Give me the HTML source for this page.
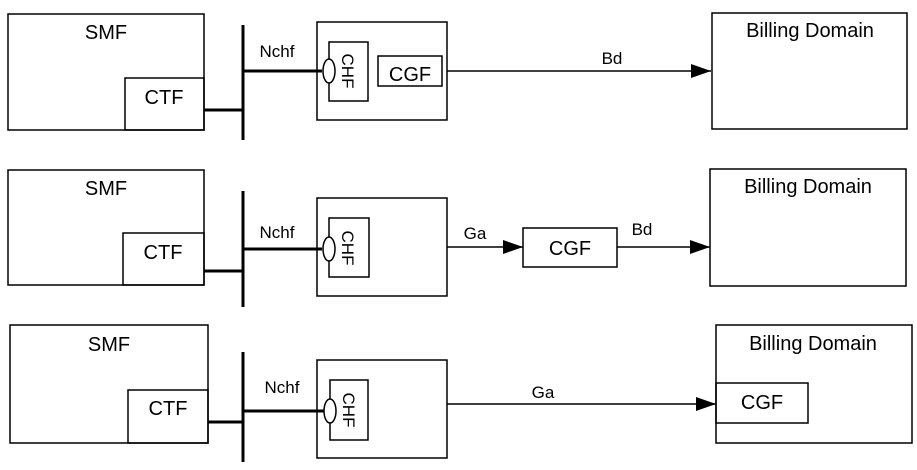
<!DOCTYPE html>
<html><head><style>html,body{margin:0;padding:0;background:#fff;}svg{display:block}</style></head>
<body>
<svg width="917" height="470" xmlns="http://www.w3.org/2000/svg" font-family="Liberation Sans, Arial, sans-serif" fill="none" stroke="#000">
<defs><marker id="a" markerWidth="20" markerHeight="14" refX="20" refY="7" orient="auto" markerUnits="userSpaceOnUse"><path d="M0,0 L20,7 L0,14 Z" fill="#000" stroke="none"/></marker></defs>
<g stroke-width="1.5">
<rect x="8" y="14" width="196" height="116"/>
<rect x="125" y="78" width="79" height="52"/>
<line x1="204" y1="110" x2="243" y2="110" stroke-width="3"/>
<line x1="243" y1="25" x2="243" y2="140" stroke-width="3"/>
<line x1="243" y1="71" x2="322" y2="71" stroke-width="3"/>
<rect x="317" y="22" width="130" height="98"/>
<rect x="329" y="42" width="39" height="59"/>
<ellipse cx="329" cy="71" rx="6" ry="12" fill="#fff"/>
<rect x="378" y="56" width="64" height="30"/>
<line x1="447" y1="71" x2="711" y2="71" marker-end="url(#a)"/>
<rect x="712" y="13" width="195" height="116"/>
<rect x="8" y="170" width="196" height="115"/>
<rect x="123" y="233" width="81" height="52"/>
<line x1="204" y1="271" x2="243" y2="271" stroke-width="3"/>
<line x1="243" y1="191" x2="243" y2="307" stroke-width="3"/>
<line x1="243" y1="249" x2="322" y2="249" stroke-width="3"/>
<rect x="317" y="198" width="130" height="98"/>
<rect x="329" y="218" width="40" height="59"/>
<ellipse cx="329" cy="249" rx="6" ry="12" fill="#fff"/>
<line x1="447" y1="247" x2="523" y2="247" marker-end="url(#a)"/>
<rect x="523" y="228" width="94" height="39"/>
<line x1="617" y1="247" x2="710" y2="247" marker-end="url(#a)"/>
<rect x="710" y="169" width="196" height="117"/>
<rect x="10" y="325" width="198" height="118"/>
<rect x="128" y="390" width="80" height="53"/>
<line x1="208" y1="422" x2="243" y2="422" stroke-width="3"/>
<line x1="243" y1="352" x2="243" y2="462" stroke-width="3"/>
<line x1="243" y1="411" x2="324" y2="411" stroke-width="3"/>
<rect x="317" y="360" width="130" height="98"/>
<rect x="330" y="380" width="38" height="60"/>
<ellipse cx="330" cy="411" rx="6" ry="12" fill="#fff"/>
<line x1="447" y1="404" x2="716" y2="404" marker-end="url(#a)"/>
<rect x="716" y="325" width="196" height="118"/>
<rect x="716" y="383" width="92" height="40"/>
</g>
<g fill="#000" stroke="none" font-size="20">
<text x="106" y="39" text-anchor="middle">SMF</text>
<text x="164" y="104" text-anchor="middle">CTF</text>
<text x="410" y="81" text-anchor="middle">CGF</text>
<text x="810" y="37" text-anchor="middle">Billing Domain</text>
<text x="106" y="195" text-anchor="middle">SMF</text>
<text x="163" y="259" text-anchor="middle">CTF</text>
<text x="570" y="255" text-anchor="middle">CGF</text>
<text x="808" y="193" text-anchor="middle">Billing Domain</text>
<text x="109" y="351" text-anchor="middle">SMF</text>
<text x="168" y="415" text-anchor="middle">CTF</text>
<text x="762" y="409" text-anchor="middle">CGF</text>
<text x="813" y="350" text-anchor="middle">Billing Domain</text>
<g font-size="17">
<text transform="translate(342,71) rotate(90)" text-anchor="middle">CHF</text>
<text transform="translate(342,248) rotate(90)" text-anchor="middle">CHF</text>
<text transform="translate(343,410) rotate(90)" text-anchor="middle">CHF</text>
</g>
<g font-size="17">
<text x="277" y="57" text-anchor="middle">Nchf</text>
<text x="612" y="64" text-anchor="middle">Bd</text>
<text x="277" y="238" text-anchor="middle">Nchf</text>
<text x="475" y="239" text-anchor="middle">Ga</text>
<text x="642" y="235" text-anchor="middle">Bd</text>
<text x="282" y="393" text-anchor="middle">Nchf</text>
<text x="543" y="398" text-anchor="middle">Ga</text>
</g>
</g>
</svg>
</body></html>
